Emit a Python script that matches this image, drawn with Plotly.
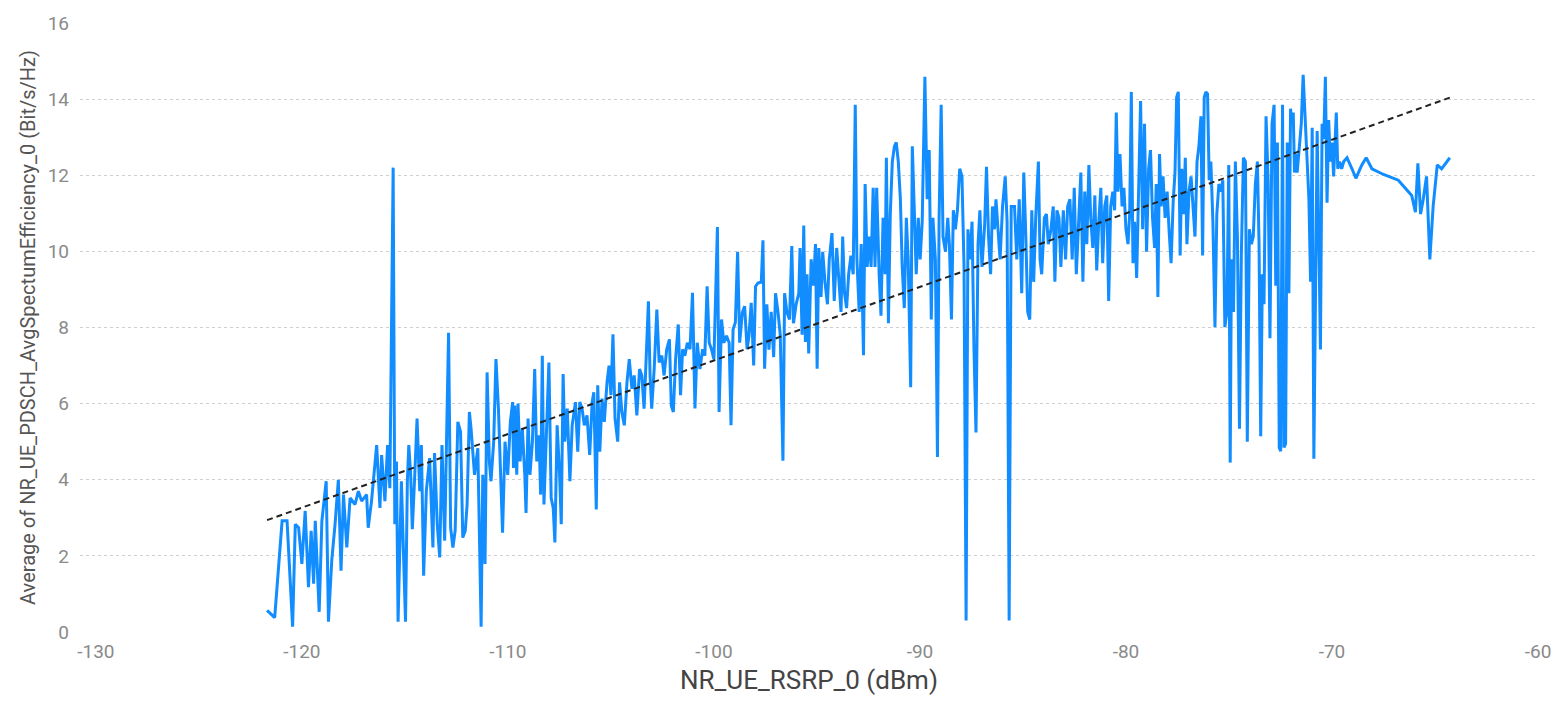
import plotly.graph_objects as go

# ---- data ----
rsrp_seg1 = [
    -121.69, -121.32, -120.96, -120.72, -120.45, -120.32, -120.16, -120.00, -119.84, -119.68,
    -119.55, -119.43, -119.35, -119.16, -119.03, -118.82, -118.71, -118.55, -118.39, -118.23,
    -118.10, -117.98, -117.82, -117.66, -117.42, -117.26, -117.10, -116.86, -116.78, -116.62,
    -116.37, -116.21, -116.13, -115.97, -115.84, -115.73, -115.57, -115.49, -115.41, -115.33,
    -115.17, -114.97, -114.88, -114.81, -114.72, -114.64, -114.52, -114.41, -114.28, -114.20,
    -114.09, -113.96, -113.80, -113.64, -113.56, -113.43, -113.31, -113.20, -113.07, -112.99,
    -112.88, -112.78, -112.67, -112.56, -112.43, -112.30, -112.19, -112.07, -111.98, -111.87,
    -111.79, -111.62, -111.46, -111.30, -111.22, -111.11, -111.01, -110.90, -110.82, -110.69,
    -110.58, -110.46, -110.37, -110.26, -110.14, -110.01, -109.88, -109.77,
]
eff_seg1 = [
    0.57, 0.38, 2.92, 2.92, 0.14, 2.83, 2.74, 1.79, 3.18, 1.18,
    2.66, 1.27, 2.92, 0.53, 2.92, 3.96, 0.27, 1.88, 2.83, 4.00,
    1.61, 3.61, 2.22, 3.52, 3.35, 3.70, 3.44, 3.61, 2.74, 3.44,
    4.91, 3.26, 4.65, 3.44, 4.91, 3.78, 12.20, 2.83, 4.48, 0.27,
    3.96, 0.27, 3.96, 4.91, 4.13, 2.70, 4.13, 5.61, 3.70, 4.91,
    1.48, 3.70, 4.57, 2.22, 4.70, 2.83, 1.96, 4.91, 2.40, 4.65,
    7.86, 2.74, 2.22, 2.66, 5.52, 5.26, 2.48, 2.66, 3.35, 5.78,
    5.35, 4.13, 4.83, 0.14, 4.13, 1.79, 6.82, 4.48, 3.96, 5.00,
    7.17, 5.87, 4.48, 2.61, 5.00, 4.13, 5.52, 6.04,
]

rsrp_seg2 = [
    -109.73, -109.67, -109.57, -109.51, -109.41, -109.30, -109.18, -109.12, -109.02, -108.93,
    -108.81, -108.70, -108.60, -108.49, -108.41, -108.33, -108.25, -108.12, -108.01, -107.90,
    -107.80, -107.72, -107.61, -107.49, -107.41, -107.32, -107.24, -107.12, -106.99, -106.88,
    -106.72, -106.61, -106.51, -106.40, -106.29, -106.16, -106.03, -105.91, -105.83, -105.71,
    -105.64, -105.54, -105.43, -105.32, -105.19, -105.09, -105.00, -104.90, -104.80, -104.67,
    -104.58, -104.47, -104.35, -104.22, -104.11, -103.98, -103.87, -103.74, -103.61, -103.50,
    -103.39, -103.29, -103.18, -103.10, -103.02, -102.90, -102.77, -102.66, -102.53, -102.42,
    -102.29, -102.16, -102.07, -101.97, -101.86, -101.73, -101.62, -101.52, -101.41, -101.29,
    -101.16, -101.04, -100.92, -100.81, -100.68, -100.55, -100.44, -100.33, -100.23, -100.12,
    -100.00, -99.91, -99.83, -99.75, -99.63, -99.52, -99.39, -99.26, -99.17, -99.07,
    -98.96, -98.85, -98.75, -98.62, -98.51, -98.39, -98.30, -98.19, -98.07, -97.98,
    -97.86,
]
eff_seg2 = [
    4.31, 5.95, 4.13, 6.00, 4.48, 5.35, 4.13, 3.13, 5.61, 4.13,
    5.00, 6.91, 4.48, 5.17, 3.61, 7.26, 3.35, 5.43, 7.08, 3.52,
    3.26, 2.35, 5.43, 4.13, 2.83, 6.78, 5.00, 5.87, 3.96, 5.43,
    6.04, 4.74, 6.04, 5.87, 5.43, 5.69, 4.65, 6.04, 6.30, 3.22,
    6.48, 4.74, 6.13, 5.52, 6.56, 7.00, 6.22, 7.82, 5.61, 5.00,
    6.56, 5.78, 5.43, 6.56, 7.17, 6.39, 6.74, 5.69, 6.91, 6.74,
    5.87, 7.17, 8.69, 6.74, 5.87, 6.91, 8.47, 7.08, 7.26, 6.74,
    7.43, 7.69, 5.95, 5.78, 7.17, 8.08, 6.22, 7.43, 7.26, 7.60,
    7.43, 8.91, 5.87, 7.60, 6.91, 7.43, 7.26, 9.08, 7.60, 7.43,
    7.17, 8.99, 10.64, 5.78, 8.21, 7.60, 7.78, 7.60, 5.43, 7.95,
    8.13, 9.99, 7.60, 8.39, 8.56, 7.43, 7.78, 8.65, 7.00, 9.08,
    9.17,
]

rsrp_seg3 = [
    -97.70, -97.62, -97.54, -97.43, -97.33, -97.22, -97.10, -97.01, -96.89, -96.78,
    -96.65, -96.57, -96.46, -96.33, -96.22, -96.14, -96.01, -95.88, -95.82, -95.72,
    -95.64, -95.56, -95.48, -95.40, -95.28, -95.17, -95.07, -94.99, -94.91, -94.80,
    -94.72, -94.61, -94.49, -94.40, -94.27, -94.16, -94.04, -93.95, -93.83, -93.75,
    -93.66, -93.56, -93.46, -93.35, -93.24, -93.14, -93.06, -92.95, -92.85, -92.74,
    -92.66, -92.56, -92.47, -92.37, -92.27, -92.18, -92.10, -91.98, -91.89, -91.79,
    -91.69, -91.63, -91.53, -91.44, -91.34, -91.24, -91.15, -91.05, -90.95, -90.86,
    -90.76, -90.66, -90.57, -90.45, -90.37, -90.28, -90.18, -90.08, -89.99, -89.89,
    -89.76, -89.65, -89.55, -89.45, -89.37, -89.25, -89.15, -89.07, -88.97, -88.88,
    -88.76, -88.65, -88.57, -88.47, -88.38, -88.28, -88.18, -88.07, -87.96, -87.86,
    -87.76, -87.67, -87.57, -87.47, -87.38, -87.28, -87.18, -87.09, -86.99, -86.86,
    -86.77, -86.67, -86.57, -86.48, -86.38, -86.31, -86.22, -86.11, -85.99, -85.86,
    -85.77, -85.67, -85.57,
]
eff_seg3 = [
    9.20, 10.29, 6.92, 8.61, 7.42, 8.41, 7.22, 8.90, 8.41, 7.81,
    4.50, 8.90, 8.41, 8.21, 10.14, 8.11, 8.61, 8.90, 10.09, 7.81,
    10.68, 7.62, 9.40, 7.32, 9.79, 9.10, 10.19, 6.92, 10.09, 8.80,
    9.99, 9.20, 8.61, 9.79, 10.48, 8.70, 10.09, 9.30, 8.41, 10.39,
    8.90, 8.51, 9.40, 9.89, 9.40, 13.85, 9.79, 8.41, 10.19, 7.27,
    11.77, 9.59, 10.39, 9.59, 11.67, 9.59, 11.67, 9.40, 8.31, 10.88,
    9.40, 12.46, 8.11, 10.98, 12.36, 12.76, 12.86, 12.36, 11.37, 9.59,
    8.51, 10.88, 9.79, 6.43, 12.76, 11.18, 9.40, 10.88, 9.79, 10.78,
    14.59, 11.37, 12.66, 8.21, 10.88, 9.79, 4.60, 10.88, 13.85, 10.39,
    9.99, 10.88, 10.19, 8.21, 11.08, 10.58, 11.08, 12.17, 11.97, 9.59,
    0.30, 10.58, 9.79, 10.78, 7.52, 5.24, 10.19, 11.08, 9.59, 10.68,
    12.22, 10.39, 9.40, 11.18, 10.58, 11.37, 10.58, 9.79, 11.18, 11.97,
    10.78, 0.30, 11.18,
]

rsrp_seg4 = [
    -85.41, -85.30, -85.18, -85.06, -84.96, -84.86, -84.77, -84.67, -84.57, -84.48,
    -84.38, -84.25, -84.17, -84.09, -83.96, -83.86, -83.77, -83.64, -83.53, -83.45,
    -83.35, -83.25, -83.16, -83.04, -82.93, -82.83, -82.72, -82.61, -82.51, -82.41,
    -82.32, -82.19, -82.09, -82.00, -81.90, -81.80, -81.71, -81.61, -81.51, -81.42,
    -81.32, -81.22, -81.13, -81.03, -80.93, -80.84, -80.74, -80.64, -80.55, -80.47,
    -80.39, -80.29, -80.19, -80.10, -80.00, -79.90, -79.82, -79.74, -79.66, -79.58,
    -79.48, -79.39, -79.29, -79.19, -79.10, -79.00, -78.90, -78.81, -78.71, -78.61,
    -78.53, -78.45, -78.37, -78.29, -78.20, -78.10, -78.00, -77.91, -77.81, -77.71,
    -77.62, -77.54, -77.46, -77.37, -77.29, -77.20, -77.12, -77.04, -76.94, -76.84,
    -76.75, -76.65, -76.55, -76.46, -76.36, -76.28, -76.20, -76.12, -76.04, -75.96,
    -75.88, -75.78, -75.68, -75.59, -75.49, -75.39, -75.30, -75.20, -75.10, -75.01,
    -74.94, -74.88, -74.78, -74.69, -74.59, -74.49, -74.40, -74.30, -74.20, -74.11,
    -74.01, -73.91, -73.82, -73.72,
]
eff_seg4 = [
    11.18, 9.79, 11.37, 8.90, 12.07, 10.39, 8.41, 8.21, 11.08, 9.20,
    10.88, 12.36, 9.79, 9.40, 10.88, 10.98, 10.19, 10.58, 11.18, 9.20,
    11.08, 10.88, 9.59, 11.08, 9.79, 11.18, 11.37, 9.79, 11.67, 9.40,
    10.68, 12.07, 9.20, 11.57, 10.19, 12.27, 10.88, 10.09, 11.47, 9.50,
    10.78, 11.67, 9.69, 11.18, 11.47, 8.70, 11.18, 11.57, 11.08, 13.65,
    11.57, 12.56, 11.18, 11.67, 10.58, 10.19, 10.98, 14.19, 9.69, 10.78,
    9.30, 11.37, 13.95, 10.58, 13.35, 9.99, 12.17, 12.66, 10.88, 10.09,
    11.77, 8.80, 12.56, 11.18, 11.97, 10.88, 11.57, 10.58, 9.69, 11.28,
    12.07, 14.05, 14.19, 9.89, 12.17, 10.98, 12.46, 10.19, 11.57, 11.97,
    11.18, 10.39, 12.36, 12.76, 13.55, 9.89, 14.05, 14.19, 14.14, 11.87,
    12.36, 10.78, 8.01, 10.98, 11.77, 11.57, 11.87, 8.01, 8.41, 12.27,
    4.45, 9.79, 8.41, 12.36, 10.39, 5.34, 9.89, 12.46, 12.36, 5.00,
    10.58, 10.19, 10.39, 11.77,
]

rsrp_seg5 = [
    -73.62, -73.54, -73.46, -73.38, -73.30, -73.20, -73.10, -73.01, -72.91, -72.81,
    -72.73, -72.65, -72.56, -72.49, -72.40, -72.33, -72.25, -72.17, -72.09, -72.01,
    -71.95, -71.88, -71.82, -71.75, -71.69, -71.59, -71.49, -71.40, -71.29, -71.20,
    -71.12, -71.04, -70.96, -70.88, -70.80, -70.72, -70.64, -70.56, -70.48, -70.40,
    -70.32, -70.24, -70.16, -70.08, -70.00, -69.92, -69.79, -69.72, -69.63, -69.53,
    -69.43, -69.27, -69.03, -68.84, -68.55, -68.34, -68.06, -67.50, -66.78, -66.45,
    -66.13, -65.95, -65.83, -65.70, -65.57, -65.41, -65.25, -65.09, -64.89, -64.68,
    -64.28,
]
eff_seg5 = [
    12.36, 10.19, 5.14, 9.40, 8.61, 13.55, 11.87, 7.72, 13.35, 13.85,
    9.10, 12.86, 4.85, 4.75, 13.85, 4.85, 4.95, 12.86, 8.90, 13.75,
    13.35, 13.65, 12.07, 12.56, 12.07, 12.76, 13.35, 14.64, 13.35, 12.36,
    11.37, 9.20, 13.25, 4.55, 9.40, 13.16, 10.39, 7.42, 13.35, 12.96,
    14.59, 11.28, 13.45, 12.36, 12.86, 11.97, 13.65, 12.17, 12.36, 12.17,
    12.36, 12.46, 12.17, 11.92, 12.27, 12.46, 12.17, 12.02, 11.87, 11.67,
    11.47, 11.03, 12.31, 10.98, 11.37, 11.97, 9.79, 11.18, 12.27, 12.17,
    12.46,
]

# trend line (start / end as shown)
trend_rsrp = [-121.69, -64.28]
trend_eff = [2.94, 14.04]

x_ticks = [-130, -120, -110, -100, -90, -80, -70, -60]
x_tick_labels = ["-130", "-120", "-110", "-100", "-90", "-80", "-70", "-60"]
y_ticks = [0, 2, 4, 6, 8, 10, 12, 14, 16]
y_tick_labels = ["0", "2", "4", "6", "8", "10", "12", "14", "16"]

x_title = "NR_UE_RSRP_0 (dBm)"
y_title = "Average of NR_UE_PDSCH_AvgSpectumEfficiency_0 (Bit/s/Hz)"

# ---- assemble ----
rsrp = rsrp_seg1 + rsrp_seg2 + rsrp_seg3 + rsrp_seg4 + rsrp_seg5
eff = eff_seg1 + eff_seg2 + eff_seg3 + eff_seg4 + eff_seg5
if len(rsrp) != len(eff):
    raise ValueError(f"length mismatch {len(rsrp)} vs {len(eff)}")

FONT = "Roboto, 'Open Sans', sans-serif"

fig = go.Figure()
fig.add_trace(go.Scatter(
    x=rsrp, y=eff, mode="lines",
    line=dict(color="#118DFF", width=3),
    name="Average of NR_UE_PDSCH_AvgSpectumEfficiency_0",
))
fig.add_trace(go.Scatter(
    x=trend_rsrp, y=trend_eff, mode="lines",
    line=dict(color="#222222", width=2, dash="6px,4px"),
    name="Trend line",
))

fig.update_layout(
    width=1563, height=702,
    margin=dict(l=80, r=15, t=18, b=70),
    paper_bgcolor="white", plot_bgcolor="white",
    showlegend=False,
    font=dict(family=FONT),
    xaxis=dict(
        range=[-130.77, -60],
        tickmode="array", tickvals=x_ticks, ticktext=x_tick_labels,
        showgrid=False, zeroline=False, showline=False, ticks="",
        tickfont=dict(size=19, color="#8a8a8a", family=FONT),
        ticklabelstandoff=6,
        ticklabeloverflow="allow",
        title=dict(text=x_title, font=dict(size=26, color="#444444", family=FONT), standoff=8),
    ),
    yaxis=dict(
        range=[0, 16],
        tickmode="array", tickvals=y_ticks, ticktext=y_tick_labels,
        showgrid=True, gridcolor="#cfcfcf", gridwidth=1, griddash="dot",
        zeroline=False, showline=False, ticks="",
        tickfont=dict(size=19, color="#8a8a8a", family=FONT),
        ticklabelstandoff=10,
        title=dict(text=y_title, font=dict(size=20, color="#555555", family=FONT), standoff=6),
    ),
)

fig.write_html(
    "out.html",
    config={"displayModeBar": False},
    post_script="document.body.style.margin='0';document.body.style.overflow='hidden';",
)
